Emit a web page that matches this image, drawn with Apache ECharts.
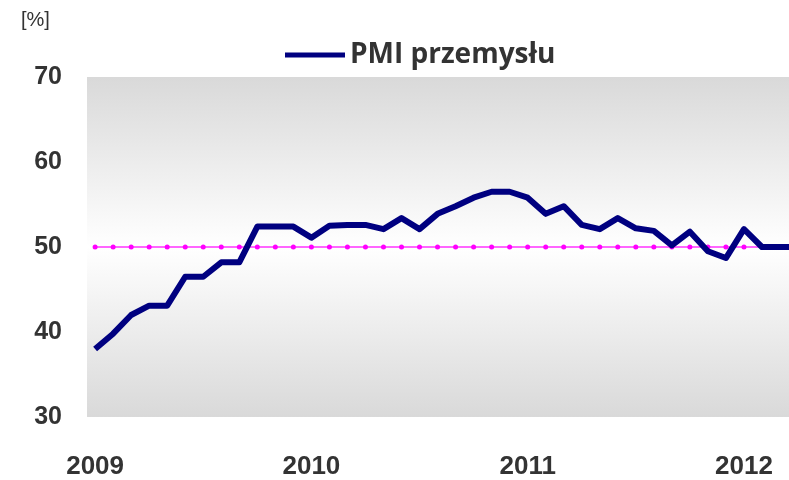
<!DOCTYPE html>
<html>
<head>
<meta charset="utf-8">
<script src="https://cdn.jsdelivr.net/npm/echarts@6/dist/echarts.min.js"></script>
<style>
  html, body { margin: 0; padding: 0; background: #fff; }
  #chart { width: 789px; height: 480px; }
</style>
</head>
<body>
<div id="chart"></div>
<script>
// miesiące od stycznia 2009 (indeks 0) 
var monthIdx  = [0,1,2,3,4,5,6,7,8,9,10,11,12,13,14,15,16,17,18,19,20,21,22,23,24,25,26,27,28,29,30,31,32,33,34,35,36,37,38,39];
// PMI przemysłu [%]
var pmiValues = [38.0,39.8,42.0,43.1,43.1,46.5,46.5,48.2,48.2,52.4,52.4,52.4,
                 51.1,52.5,52.6,52.6,52.1,53.4,52.1,53.9,54.8,55.8,56.5,56.5,
                 55.8,53.9,54.8,52.6,52.1,53.4,52.2,51.9,50.2,51.8,49.5,48.7,
                 52.1,50.0,50.0,50.0];
// próg 50 pkt
var threshold = [50,50,50,50,50,50,50,50,50,50,50,50,50,50,50,50,50,50,50,50,
                 50,50,50,50,50,50,50,50,50,50,50,50,50,50,50,50,50,50,50,50];
// etykiety osi X
var yearTicks  = [0, 12, 24, 36];
var yearLabels = ['2009', '2010', '2011', '2012'];

function pairs(xs, ys) {
    var out = [];
    for (var i = 0; i < xs.length; i++) {
        out.push([xs[i], ys[i]]);
    }
    return out;
}

var myChart = echarts.init(document.getElementById('chart'));
var option = {
    animation: false,
    grid: {
        left: 87, right: 0, top: 77, bottom: 61,
        show: true,
        borderWidth: 0,
        backgroundColor: new echarts.graphic.LinearGradient(0, 0, 0, 1, [
            { offset: 0, color: '#d9d9d9' },
            { offset: 0.5, color: '#ffffff' },
            { offset: 1, color: '#d9d9d9' }
        ])
    },
    legend: {
        data: ['PMI przemysłu'],
        left: 280,
        top: 36,
        icon: 'rect',
        itemWidth: 60,
        itemHeight: 5,
        itemGap: 10,
        textStyle: {
            fontFamily: 'Open Sans',
            fontWeight: 'bold',
            fontSize: 28,
            color: '#333333'
        }
    },
    graphic: [{
        type: 'text',
        left: 21,
        top: 10,
        style: { text: '[%]', font: '20px "Liberation Sans"', fill: '#333333' }
    }],
    xAxis: {
        type: 'value',
        min: -0.45,
        max: 38.5,
        splitLine: { show: false },
        axisLine: { show: false },
        axisTick: { show: false },
        axisLabel: {
            customValues: yearTicks,
            margin: 37,
            fontFamily: 'Liberation Sans',
            fontWeight: 'bold',
            fontSize: 26,
            color: '#333333',
            formatter: function (v) {
                var k = yearTicks.indexOf(Math.round(v));
                return k >= 0 ? yearLabels[k] : '';
            }
        }
    },
    yAxis: {
        type: 'value',
        min: 30,
        max: 70,
        interval: 10,
        splitLine: { show: false },
        axisLine: { show: false },
        axisTick: { show: false },
        axisLabel: {
            margin: 25,
            fontFamily: 'Liberation Sans',
            fontWeight: 'bold',
            fontSize: 25,
            color: '#333333'
        }
    },
    series: [
        {
            name: 'próg',
            type: 'line',
            data: pairs(monthIdx, threshold),
            clip: true,
            symbol: 'circle',
            symbolSize: 5,
            lineStyle: { color: '#ff66ff', width: 2 },
            itemStyle: { color: '#ff00ff' },
            z: 2
        },
        {
            name: 'PMI przemysłu',
            type: 'line',
            data: pairs(monthIdx, pmiValues),
            clip: true,
            symbol: 'none',
            lineStyle: { color: '#000080', width: 6, join: 'round' },
            itemStyle: { color: '#000080' },
            z: 3
        }
    ]
};
myChart.setOption(option);
</script>
</body>
</html>
